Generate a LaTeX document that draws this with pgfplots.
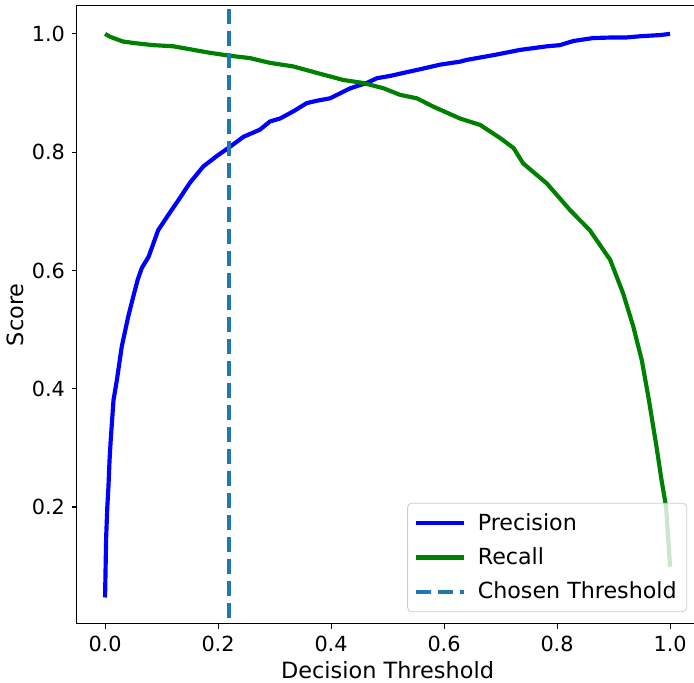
\documentclass[border=0pt]{standalone}
\usepackage{fontspec}
\setmainfont{DejaVu Sans}
\usepackage{pgfplots}
\pgfplotsset{compat=1.18}

\definecolor{mplblue}{HTML}{0000FF}
\definecolor{mplgreen}{HTML}{008000}
\definecolor{tabblue}{HTML}{1F77B4}

\begin{document}
\begin{tikzpicture}
\path[use as bounding box] (-38.4pt,-29.1pt) rectangle (308.6pt,311.9pt);
\clip (-38.4pt,-29.1pt) rectangle (308.6pt,311.9pt);
\begin{axis}[
  at={(0,0)}, anchor=south west,
  scale only axis, width=310.75pt, height=309pt,
  xmin=-0.05, xmax=1.05, ymin=0.0025, ymax=1.0475,
  xtick={0,0.2,0.4,0.6,0.8,1.0},
  ytick={0.2,0.4,0.6,0.8,1.0},
  xticklabel style={/pgf/number format/.cd,fixed,fixed zerofill,precision=1},
  yticklabel style={/pgf/number format/.cd,fixed,fixed zerofill,precision=1},
  /pgf/number format/assume math mode=true,
  tick label style={font=\fontsize{10.4}{12}\selectfont},
  label style={font=\fontsize{11.2}{13}\selectfont},
  xlabel={Decision Threshold}, ylabel={Score},
  xlabel style={at={(axis description cs:0.5,0)}, anchor=north, yshift=-15.5pt},
  ylabel style={at={(axis description cs:0,0.5)}, anchor=south, yshift=23pt},
  tick align=outside, xtick pos=left, ytick pos=left,
  major tick length=2.4pt,
  every tick/.style={black, line width=0.55pt},
  axis line style={line width=0.55pt},
  legend cell align=left,
  legend style={at={(axis description cs:0.982,0.019)}, anchor=south east,
    draw=black!20, fill=white, fill opacity=0.8, draw opacity=1, text opacity=1,
    rounded corners=2pt, font=\fontsize{11.1}{13}\selectfont,
    inner xsep=3pt, inner ysep=3pt, row sep=3.2pt},
  legend image code/.code={\draw[#1] (0pt,0pt) -- (24pt,0pt); \path (28pt,0pt);},
]
\addplot[mplblue, line width=2.08pt, line join=round] coordinates {
(0.0,0.047)(0.002,0.15)(0.004,0.2)(0.006,0.234)(0.008,0.28)(0.010,0.313)
(0.015,0.381)(0.021,0.415)(0.0295,0.471)(0.041,0.522)(0.050,0.556)(0.058,0.585)
(0.065,0.604)(0.077,0.623)(0.094,0.668)(0.112,0.694)(0.13,0.719)(0.15,0.748)
(0.174,0.776)(0.2,0.795)(0.221,0.809)(0.245,0.826)(0.274,0.838)(0.292,0.852)
(0.310,0.857)(0.335,0.870)(0.357,0.883)(0.375,0.887)(0.398,0.891)(0.434,0.908)
(0.463,0.917)(0.481,0.925)(0.505,0.929)(0.528,0.934)(0.552,0.939)(0.593,0.948)
(0.628,0.953)(0.640,0.956)(0.687,0.964)(0.735,0.973)(0.782,0.979)(0.805,0.981)
(0.829,0.988)(0.864,0.993)(0.9,0.994)(0.923,0.994)(0.947,0.996)(0.982,0.998)
(1.0,1.0)};
\addlegendentry{Precision}
\addplot[mplgreen, line width=2.08pt, line join=round] coordinates {
(0,1.0)(0.009,0.995)(0.032,0.987)(0.056,0.984)(0.085,0.981)(0.121,0.979)
(0.162,0.972)(0.186,0.968)(0.221,0.963)(0.257,0.959)(0.274,0.955)(0.292,0.951)
(0.333,0.945)(0.375,0.934)(0.422,0.922)(0.457,0.917)(0.493,0.908)(0.522,0.897)
(0.552,0.891)(0.581,0.877)(0.628,0.857)(0.664,0.846)(0.699,0.824)(0.723,0.807)
(0.740,0.781)(0.782,0.747)(0.823,0.702)(0.858,0.668)(0.894,0.618)(0.917,0.561)
(0.935,0.505)(0.950,0.448)(0.962,0.384)(0.976,0.302)(0.985,0.245)(0.993,0.20)
(1.0,0.099)};
\addlegendentry{Recall}
\addplot[tabblue, line width=2.08pt, dash pattern=on 7.7pt off 3.3pt] coordinates {(0.22,-0.1) (0.22,1.2)};
\addlegendentry{Chosen Threshold}
\end{axis}
\end{tikzpicture}
\end{document}
